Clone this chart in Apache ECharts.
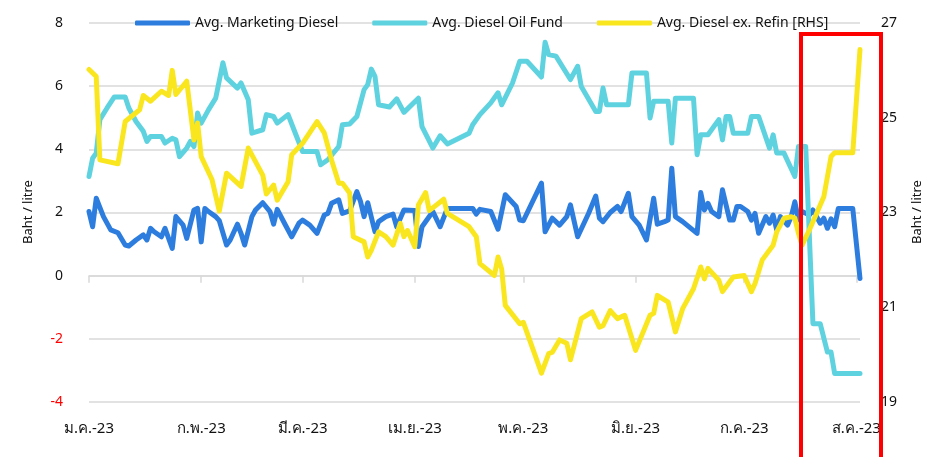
<!DOCTYPE html>
<html>
<head>
<meta charset="utf-8">
<title>Diesel</title>
<script src="https://cdn.jsdelivr.net/npm/echarts@6/dist/echarts.min.js"></script>
<style>
  html, body { margin: 0; padding: 0; background: #fff; }
  #chart { width: 937px; height: 457px; }
</style>
</head>
<body>
<div id="chart"></div>
<script>
// x values are days since 1 Jan 2023
const monthTicks = [0, 31, 59, 90, 120, 151, 181, 212]
const monthLabels = ['ม.ค.-23', 'ก.พ.-23', 'มี.ค.-23', 'เม.ย.-23', 'พ.ค.-23', 'มิ.ย.-23', 'ก.ค.-23', 'ส.ค.-23']

const leftTicks = [-4, -2, 0, 2, 4, 6, 8]
const rightTicks = [19, 21, 23, 25, 27]

// Avg. Marketing Diesel (LHS)
const mktDays = [0,1,2,4,6,8,10,11,13,15,16,17,18,20,21,23,24,26,27,29,30,31,32,33,35,36,38,39,41,42,43,45,46,48,50,51,52,54,56,58,59,61,63,65,66,67,69,70,72,74,75,76,77,79,80,82,84,85,87,90,91,92,95,97,99,106,107,108,111,113,115,118,119,120,125,126,128,130,132,133,135,138,140,141,142,144,146,147,149,150,152,154,156,157,159,160,161,162,164,168,169,170,171,172,174,175,177,178,179,180,182,183,184,185,187,188,189,190,191,193,194,195,196,197,199,200,202,203,204,205,206,207,211,213]
const mktVals = [2.03,1.55,2.45,1.87,1.45,1.36,0.97,0.94,1.13,1.29,1.13,1.5,1.39,1.23,1.5,0.86,1.87,1.6,1.18,2.08,2.13,1.07,2.13,2.03,1.87,1.74,0.97,1.13,1.63,1.34,0.97,1.87,2.08,2.31,2.03,1.63,2.1,1.66,1.23,1.66,1.76,1.6,1.34,1.92,1.97,2.29,2.4,1.97,2.05,2.66,2.35,1.87,2.31,1.39,1.71,1.87,1.95,1.55,2.08,2.06,0.92,1.55,2.03,1.55,2.13,2.13,1.95,2.1,2.03,1.47,2.56,2.19,1.76,1.74,2.93,1.39,1.82,1.6,1.87,2.24,1.23,1.97,2.52,1.82,1.71,2.0,2.19,2.03,2.61,1.87,1.6,1.13,2.45,1.63,1.71,1.76,3.4,1.87,1.71,1.34,2.63,2.08,2.29,2.03,1.87,2.72,1.76,1.76,2.19,2.19,2.03,1.76,1.97,1.34,1.87,1.66,1.92,1.45,1.87,1.6,1.87,2.34,1.76,2.03,1.92,2.08,1.66,1.82,1.5,1.8,1.55,2.13,2.13,-0.09]

// Avg. Diesel Oil Fund (LHS)
const fundDays = [0,1,2,3,5,7,10,11,13,15,16,17,20,21,23,24,25,27,28,29,30,31,33,35,37,38,41,42,44,45,48,49,51,52,55,57,59,63,64,66,69,70,72,74,76,77,78,79,80,83,85,87,91,92,95,97,99,105,106,108,111,113,114,117,119,121,125,126,127,129,133,135,136,140,141,142,143,149,150,154,155,156,160,161,162,167,168,169,171,174,175,176,177,178,182,183,185,188,189,190,192,195,196,198,200,202,204,205,206,213]
const fundVals = [3.14,3.72,3.88,4.94,5.31,5.66,5.66,5.31,4.88,4.57,4.25,4.41,4.41,4.2,4.35,4.3,3.77,4.04,4.25,4.09,5.15,4.83,5.25,5.62,6.74,6.26,5.94,6.1,5.57,4.51,4.62,5.1,5.04,4.83,5.1,4.51,3.93,3.93,3.51,3.67,4.09,4.78,4.8,5.04,5.89,6.05,6.54,6.31,5.41,5.34,5.6,5.17,5.62,4.72,4.04,4.43,4.17,4.51,4.78,5.1,5.47,5.79,5.41,6.1,6.79,6.79,6.29,7.39,7.0,6.95,6.21,6.63,5.99,5.2,5.2,5.94,5.41,5.41,6.42,6.42,4.99,5.52,5.52,4.2,5.62,5.62,3.83,4.46,4.46,4.94,4.3,5.04,5.04,4.51,4.51,5.04,5.04,4.04,4.46,3.88,3.88,3.14,4.09,4.09,-1.52,-1.52,-2.42,-2.42,-3.1,-3.1]

// Avg. Diesel ex. Refin (RHS)
const refinDays = [0,2,3,8,10,14,15,17,20,22,23,24,27,29,30,31,34,36,38,42,44,48,49,51,52,55,56,59,63,65,67,69,70,72,73,76,77,78,80,82,84,86,87,88,90,91,93,94,98,99,105,107,108,112,113,114,115,119,120,125,127,128,130,132,133,136,139,141,142,144,146,148,151,155,156,157,160,162,164,167,169,170,171,174,175,177,178,181,183,184,186,189,190,192,194,195,196,197,199,201,203,205,206,211,213]
const refinVals = [26.02,25.87,24.11,24.03,24.92,25.17,25.47,25.35,25.56,25.47,26.0,25.49,25.77,24.53,24.89,24.18,23.69,23.03,23.83,23.55,24.36,23.79,23.39,23.58,23.26,23.65,24.22,24.46,24.92,24.68,24.11,23.62,23.62,23.41,22.49,22.38,22.06,22.2,22.59,22.49,22.31,22.77,22.49,22.62,22.28,23.16,23.42,23.04,23.28,22.98,22.7,22.49,21.92,21.67,22.06,21.81,21.04,20.65,20.68,19.61,20.02,20.05,20.31,20.24,19.89,20.76,20.9,20.58,20.61,20.93,20.76,20.83,20.09,20.83,20.87,21.25,21.11,20.48,20.97,21.39,21.85,21.6,21.82,21.57,21.33,21.54,21.64,21.67,21.33,21.5,22.0,22.31,22.59,22.88,22.91,22.88,22.56,22.31,22.63,22.98,23.33,24.18,24.26,24.26,26.44]

const pairs = (days, vals) => days.map((d, i) => [d, vals[i]])

const font = "'Noto Sans', 'DejaVu Sans', sans-serif"
const gridColor = '#d9d9d9'

const chart = echarts.init(document.getElementById('chart'))

const lineSeries = (name, days, vals, color, yIndex) => ({
  name: name,
  type: 'line',
  yAxisIndex: yIndex,
  data: pairs(days, vals),
  symbol: 'none',
  smooth: false,
  lineStyle: { color: color, width: 5, cap: 'round', join: 'round' },
  itemStyle: { color: color },
  emphasis: { disabled: true }
})

const option = {
  animation: false,
  textStyle: { fontFamily: font },
  grid: { left: 89, right: 77, top: 23, bottom: 55, containLabel: false, outerBoundsMode: 'none' },
  legend: {
    left: 130,
    top: 11,
    icon: 'roundRect',
    itemWidth: 55,
    itemHeight: 5,
    itemGap: 34,
    textStyle: { fontSize: 14, color: '#111', fontFamily: font },
    data: ['Avg. Marketing Diesel', 'Avg. Diesel Oil Fund', 'Avg. Diesel ex. Refin [RHS]']
  },
  xAxis: [
    {
      // axis line sits on zero, ticks hang below it
      type: 'value',
      min: 0,
      max: 213,
      axisLine: { onZero: true, onZeroAxisIndex: 0, lineStyle: { color: gridColor, width: 1.5 } },
      axisTick: { show: true, customValues: monthTicks, length: 7, lineStyle: { color: gridColor, width: 1.5 } },
      axisLabel: { show: false },
      splitLine: { show: false }
    },
    {
      // month labels at the bottom of the plot
      type: 'value',
      position: 'bottom',
      min: 0,
      max: 213,
      axisLine: { show: false, onZero: false },
      axisTick: { show: false },
      axisLabel: {
        customValues: monthTicks,
        margin: 19,
        fontSize: 15,
        color: '#111',
        formatter: v => monthLabels[monthTicks.indexOf(v)]
      },
      splitLine: { show: false }
    }
  ],
  yAxis: [
    {
      type: 'value',
      min: leftTicks[0],
      max: leftTicks[leftTicks.length - 1],
      interval: 2,
      axisLine: { show: false },
      axisTick: { show: false },
      splitLine: { lineStyle: { color: gridColor, width: 1.5 } },
      axisLabel: {
        margin: 26,
        fontSize: 14,
        color: v => (v < 0 ? '#ff0000' : '#111')
      }
    },
    {
      type: 'value',
      position: 'right',
      min: rightTicks[0],
      max: rightTicks[rightTicks.length - 1],
      interval: 2,
      axisLine: { show: false },
      axisTick: { show: false },
      splitLine: { show: false },
      axisLabel: { margin: 21, fontSize: 14, color: '#111' }
    }
  ],
  series: [
    lineSeries('Avg. Marketing Diesel', mktDays, mktVals, '#2d7ddf', 0),
    lineSeries('Avg. Diesel Oil Fund', fundDays, fundVals, '#5fd2e0', 0),
    lineSeries('Avg. Diesel ex. Refin [RHS]', refinDays, refinVals, '#fae61e', 1)
  ],
  graphic: [
    {
      type: 'text',
      x: 28, y: 212, rotation: Math.PI / 2,
      style: { text: 'Baht / litre', font: '13px ' + font, fill: '#111', align: 'center', verticalAlign: 'middle' }
    },
    {
      type: 'text',
      x: 917, y: 212, rotation: Math.PI / 2,
      style: { text: 'Baht / litre', font: '13px ' + font, fill: '#111', align: 'center', verticalAlign: 'middle' }
    },
    {
      type: 'rect',
      z: 100,
      shape: { x: 801, y: 34, width: 80, height: 440 },
      style: { fill: 'none', stroke: '#ff0000', lineWidth: 4 }
    }
  ]
}

chart.setOption(option)
</script>
</body>
</html>
